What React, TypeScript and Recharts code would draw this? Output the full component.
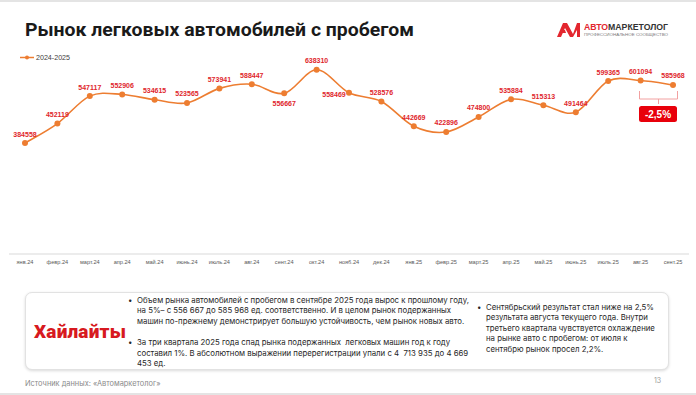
import React from "react";
import { LineChart, Line, XAxis, YAxis, LabelList } from "recharts";

const months = [
  "янв.24", "февр.24", "март.24", "апр.24", "май.24", "июнь.24", "июль.24",
  "авг.24", "сент.24", "окт.24", "нояб.24", "дек.24", "янв.25", "февр.25",
  "март.25", "апр.25", "май.25", "июнь.25", "июль.25", "авг.25", "сент.25",
];
const sales = [
  384558, 452119, 547117, 552906, 534615, 523565, 573941, 588447, 556667,
  638310, 558469, 528576, 442669, 422896, 474800, 535884, 515313, 491464,
  599365, 601094, 585968,
];
const seriesName = "2024-2025";
const changeLabel = "-2,5%";

const data = months.map((m, i) => ({ month: m, value: sales[i] }));

const ORANGE = "#ED7D31";
const LABEL_RED = "#E0262C";

// Catmull-Rom style smoothing (similar to Excel smoothed lines)
const smoothCurve = (context: any) => {
  let pts: number[][] = [];
  return {
    areaStart() {},
    areaEnd() {},
    lineStart() {
      pts = [];
    },
    point(x: number, y: number) {
      pts.push([+x, +y]);
    },
    lineEnd() {
      if (!pts.length) return;
      context.moveTo(pts[0][0], pts[0][1]);
      for (let i = 0; i < pts.length - 1; i++) {
        const p0 = pts[i - 1] || pts[i];
        const p1 = pts[i];
        const p2 = pts[i + 1];
        const p3 = pts[i + 2] || p2;
        context.bezierCurveTo(
          p1[0] + (p2[0] - p0[0]) / 6,
          p1[1] + (p2[1] - p0[1]) / 6,
          p2[0] - (p3[0] - p1[0]) / 6,
          p2[1] - (p3[1] - p1[1]) / 6,
          p2[0],
          p2[1]
        );
      }
    },
  };
};

const ValueLabel = (props: any) => {
  const { x, y, value, index } = props;
  let dx = 0;
  let dy = -9;
  if (index === 8) dy = 10;
  if (index === 10) {
    dx = -15;
    dy = 2;
  }
  return (
    <text
      x={x + dx}
      y={y + dy}
      textAnchor="middle"
      dominantBaseline="central"
      fontFamily="'Liberation Sans', Arial, sans-serif"
      fontWeight="bold"
      fontSize={7}
      fill={LABEL_RED}
    >
      {value}
    </text>
  );
};

const bullet1 = [
  "Объем рынка автомобилей с пробегом в сентябре 2025 года вырос к прошлому году,",
  "на 5%– с 556 667 до 585 968 ед. соответственно. И в целом рынок подержанных",
  "машин по-прежнему демонстрирует большую устойчивость, чем рынок новых авто.",
];
const bullet2 = [
  "За три квартала 2025 года спад рынка подержанных  легковых машин год к году",
  "составил 1%. В абсолютном выражении перерегистрации упали с 4  713 935 до 4 669",
  "453 ед.",
];
const bullet3 = [
  "Сентябрьский результат стал ниже на 2,5%",
  "результата августа текущего года. Внутри",
  "третьего квартала чувствуется охлаждение",
  "на рынке авто с пробегом: от июля к",
  "сентябрю рынок просел 2,2%.",
];

const textFont = "Inter, 'Noto Sans', sans-serif";

const Bullet = ({ lines, left, top }: any) => (
  <div
    style={{
      position: "absolute",
      left,
      top,
      fontFamily: textFont,
      fontSize: 7.8,
      lineHeight: "10.6px",
      color: "#262626",
      whiteSpace: "pre",
    }}
  >
    <span style={{ position: "absolute", left: -9, top: 0 }}>•</span>
    {lines.map((l: string, i: number) => (
      <div key={i}>{l}</div>
    ))}
  </div>
);

export default function App() {
  return (
    <div
      style={{
        position: "fixed",
        left: 0,
        top: 0,
        width: 696,
        height: 395,
        background: "#fff",
        overflow: "hidden",
      }}
    >
      {/* top / bottom slide borders */}
      <div style={{ position: "absolute", left: 0, top: 0, width: 696, height: 2, background: "#e4e4e4" }} />
      <div style={{ position: "absolute", left: 0, top: 393, width: 696, height: 2, background: "#e4e4e4" }} />

      {/* Title */}
      <svg style={{ position: "absolute", left: 0, top: 0 }} width={696} height={50}>
        <text
          x={25}
          y={36}
          fontFamily="Roboto, 'Liberation Sans', sans-serif"
          fontWeight="bold"
          fontSize={18.5}
          fill="#1a1a1a"
          textLength={389}
          lengthAdjust="spacingAndGlyphs"
        >
          Рынок легковых автомобилей с пробегом
        </text>
        {/* logo */}
        <g fill="#E3262E">
          <polygon points="557,37 563,23 567,23 573,34 577,23 580,23 580,37 577,37 577,30 573,37 570,37 565,28 561,37" />
          <polygon points="560,33 566,33 565,30 561,30" />
        </g>
        <text
          x={584}
          y={29.5}
          fontFamily="'Liberation Sans', Arial, sans-serif"
          fontWeight="bold"
          fontSize={8.3}
          textLength={84}
          lengthAdjust="spacingAndGlyphs"
        >
          <tspan fill="#E3262E">АВТО</tspan>
          <tspan fill="#333">МАРКЕТОЛОГ</tspan>
        </text>
        <text
          x={584}
          y={35.5}
          fontFamily="'Liberation Sans', Arial, sans-serif"
          fontSize={3.8}
          fill="#777"
          textLength={84}
          lengthAdjust="spacingAndGlyphs"
        >
          ПРОФЕССИОНАЛЬНОЕ СООБЩЕСТВО
        </text>
      </svg>

      {/* Legend */}
      <svg style={{ position: "absolute", left: 0, top: 50 }} width={100} height={16}>
        <line x1={20} x2={34} y1={7.5} y2={7.5} stroke={ORANGE} strokeWidth={1.5} />
        <circle cx={27} cy={7.5} r={2} fill={ORANGE} />
        <text
          x={36}
          y={7.5}
          dominantBaseline="central"
          fontFamily="'Liberation Sans Narrow', 'Liberation Sans', Arial, sans-serif"
          fontSize={7.2}
          fill="#404040"
          textLength={34}
          lengthAdjust="spacingAndGlyphs"
        >
          {seriesName}
        </text>
      </svg>

      {/* Chart */}
      <div style={{ position: "absolute", left: 0, top: 0 }}>
        <LineChart
          width={696}
          height={272}
          data={data}
          margin={{ top: 52, right: 7, left: 9, bottom: 0 }}
        >
          <XAxis
            dataKey="month"
            height={18}
            padding={{ left: 16, right: 16 }}
            axisLine={{ stroke: "#d9d9d9", strokeWidth: 1 }}
            tickLine={false}
            tickSize={4}
            tickMargin={2}
            interval={0}
            tick={{ fontSize: 5.6, fill: "#595959", fontFamily: "'Liberation Sans', Arial, sans-serif" }}
          />
          <YAxis hide domain={[0, 700000]} />
          <Line
            type={smoothCurve as any}
            dataKey="value"
            name={seriesName}
            stroke={ORANGE}
            strokeWidth={1.6}
            dot={{ r: 3, fill: ORANGE, stroke: ORANGE, strokeWidth: 0 }}
            activeDot={false}
            isAnimationActive={false}
          >
            <LabelList dataKey="value" content={<ValueLabel />} />
          </Line>
        </LineChart>
      </div>

      {/* -2,5% annotation */}
      <svg style={{ position: "absolute", left: 630, top: 85 }} width={60} height={45}>
        <path d="M9.5,6 V14 H47.5 V6 M28.5,14 V19" fill="none" stroke="#F2A0A0" strokeWidth={1} />
        <rect x={9} y={21} width={38} height={16} rx={2.5} fill="#E8000B" />
        <text
          x={28}
          y={29.5}
          textAnchor="middle"
          dominantBaseline="central"
          fontFamily="'Liberation Sans', Arial, sans-serif"
          fontWeight="bold"
          fontSize={10}
          fill="#fff"
        >
          {changeLabel}
        </text>
      </svg>

      {/* Highlights box */}
      <div
        style={{
          position: "absolute",
          left: 25,
          top: 292,
          width: 644,
          height: 78,
          boxSizing: "border-box",
          border: "1px solid #e2e2e2",
          borderRadius: 7,
          boxShadow: "0 1px 3px rgba(0,0,0,0.15)",
          background: "#fff",
        }}
      />
      <div
        style={{
          position: "absolute",
          left: 34,
          top: 320,
          fontFamily: "Roboto, 'Liberation Sans', sans-serif",
          fontWeight: 900,
          fontSize: 19,
          color: "#D71920",
          letterSpacing: 0.2,
          lineHeight: "24px",
        }}
      >
        Хайлайты
      </div>
      <Bullet lines={bullet1} left={137} top={294.5} />
      <Bullet lines={bullet2} left={137} top={337} />
      <Bullet lines={bullet3} left={486} top={301.5} />

      {/* Footer */}
      <div
        style={{
          position: "absolute",
          left: 25,
          top: 378,
          fontFamily: textFont,
          fontSize: 7.4,
          color: "#8a8a8a",
          whiteSpace: "nowrap",
          lineHeight: "12px",
        }}
      >
        Источник данных: «Автомаркетолог»
      </div>
      <div
        style={{
          position: "absolute",
          left: 654,
          top: 375,
          fontFamily: textFont,
          fontSize: 7,
          color: "#9a9a9a",
          lineHeight: "12px",
        }}
      >
        13
      </div>
    </div>
  );
}
